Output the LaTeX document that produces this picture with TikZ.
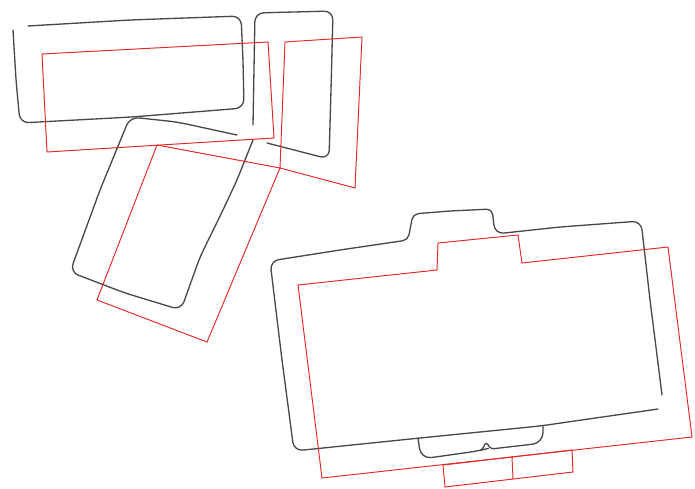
\documentclass[tikz,border=0pt]{standalone}
\definecolor{inkgray}{RGB}{72,72,72}
\definecolor{inkred}{RGB}{228,40,40}
\begin{document}
\begin{tikzpicture}[x=0.02cm, y=-0.02cm,
    pencil/.style={draw=inkgray, line width=0.75pt, rounded corners=5pt, line cap=round, line join=round},
    cutline/.style={draw=inkred, line width=0.55pt, line join=miter}]
  \useasboundingbox (0,0) rectangle (695,489);

  % hand-drawn outlines
  \draw[pencil] (13,30) -- (16,80) -- (20,123) -- (132,117) -- (244,108) -- (243,60) -- (241,16) -- (130,20) -- (28,26);
  \draw[pencil] (253,125) -- (255,13) -- (333,11) -- (331,90) -- (329,159) -- (267,143);
  \draw[pencil] (237,135) -- (177,122) -- (130,117) -- (100,190) -- (70,272) -- (125,293) -- (181,310) -- (200,257) -- (223,210) -- (237,180) -- (253,140);
  \draw[pencil] (662,395) -- (650,300) -- (641,221) -- (560,227) -- (495,234)
    [rounded corners=3pt] -- (492,209) -- (450,211) -- (413,214) -- (408,240)
    [rounded corners=5pt] -- (340,250) -- (270,261) -- (282,360) -- (294,451) -- (420,438) -- (540,426) -- (658,409);
  \draw[pencil, rounded corners=6pt] (418,438) -- (421,459) -- (478,451)
    [rounded corners=1.5pt] -- (482,450) -- (486,442) -- (491,449)
    [rounded corners=6pt] -- (543,443) -- (543,426);

  % cut outlines
  \draw[cutline] (42,54) -- (268,42) -- (274,138) -- (47,152) -- cycle;
  \draw[cutline] (285,42) -- (362,37) -- (355,188) -- (280,168) -- cycle;
  \draw[cutline] (157,145) -- (280,168) -- (207,342) -- (97,300) -- cycle;
  \draw[cutline] (298,285) -- (437,270) -- (438,243) -- (518,235) -- (522,263) -- (668,247) -- (692,437) -- (322,478) -- cycle;
  \draw[cutline] (443,465) -- (572,450) -- (573,472) -- (445,487) -- cycle;
  \draw[cutline] (512,457) -- (513,479);
\end{tikzpicture}
\end{document}
